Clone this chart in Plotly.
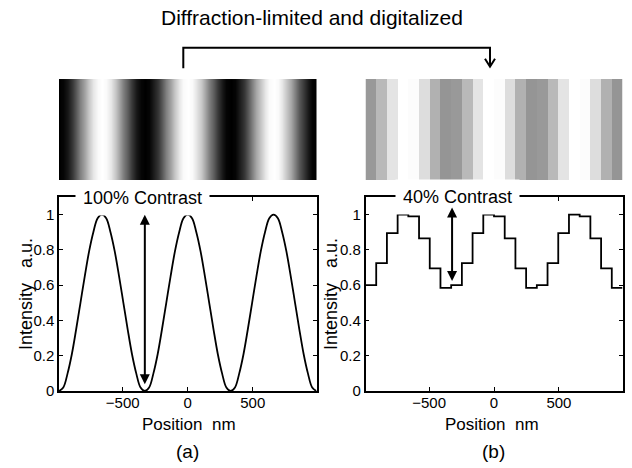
import plotly.graph_objects as go

W, H = 632, 468

# ---- data ----
# (a) diffraction-limited profile, sampled every 33 nm
pos_a = [-990, -957, -924, -891, -858, -825, -792, -759, -726, -693, -660,
         -627, -594, -561, -528, -495, -462, -429, -396, -363, -330,
         -297, -264, -231, -198, -165, -132, -99, -66, -33, 0,
         33, 66, 99, 132, 165, 198, 231, 264, 297, 330,
         363, 396, 429, 462, 495, 528, 561, 594, 627, 660,
         693, 726, 759, 792, 825, 858, 891, 924, 957, 990]
int_a = [0.0, 0.02, 0.10, 0.21, 0.35, 0.50, 0.65, 0.79, 0.90, 0.98, 1.0,
         0.98, 0.90, 0.79, 0.65, 0.50, 0.35, 0.21, 0.10, 0.02, 0.0,
         0.02, 0.10, 0.21, 0.35, 0.50, 0.65, 0.79, 0.90, 0.98, 1.0,
         0.98, 0.90, 0.79, 0.65, 0.50, 0.35, 0.21, 0.10, 0.02, 0.0,
         0.02, 0.10, 0.21, 0.35, 0.50, 0.65, 0.79, 0.90, 0.98, 1.0,
         0.98, 0.90, 0.79, 0.65, 0.50, 0.35, 0.21, 0.10, 0.02, 0.0]

# (b) digitalized profile: pixel edges (nm) and pixel values
edges_b = [-990, -907.5, -825, -742.5, -660, -577.5, -495, -412.5, -330,
           -247.5, -165, -82.5, 0, 82.5, 165, 247.5, 330, 412.5, 495,
           577.5, 660, 742.5, 825, 907.5, 990]
int_b = [0.60, 0.725, 0.895, 1.0, 0.99, 0.865, 0.695, 0.585,
         0.60, 0.725, 0.895, 1.0, 0.99, 0.865, 0.695, 0.585,
         0.60, 0.725, 0.895, 1.0, 0.99, 0.865, 0.695, 0.585]

x_ticks = [-500, 0, 500]
x_ticktext = ["\u2212500", "0", "500"]
y_ticks = [0, 0.2, 0.4, 0.6, 0.8, 1.0]
y_ticktext = ["0", "0.2", "0.4", "0.6", "0.8", "1"]
x_range = [-990, 990]
y_range = [0, 1.1]

FONT = "Liberation Sans, Arial, sans-serif"


def px_x(p):
    return p / W


def px_y(p):
    return 1 - p / H


fig = go.Figure()

gray = [[0, "black"], [1, "white"]]

# gray-level strips
fig.add_trace(go.Heatmap(x=pos_a, y=[0, 1], z=[int_a, int_a], zmin=0, zmax=1,
                         colorscale=gray, showscale=False, zsmooth="best",
                         xaxis="x3", yaxis="y3", hoverinfo="skip"))
fig.add_trace(go.Heatmap(x=edges_b, y=[0, 1], z=[int_b, int_b], zmin=0, zmax=1,
                         colorscale=gray, showscale=False,
                         xaxis="x4", yaxis="y4", hoverinfo="skip"))

# profiles
fig.add_trace(go.Scatter(x=pos_a, y=int_a, mode="lines", line_shape="spline",
                         line=dict(color="black", width=1.8),
                         xaxis="x", yaxis="y", showlegend=False))
fig.add_trace(go.Scatter(x=edges_b, y=int_b + [int_b[-1]], mode="lines",
                         line_shape="hv", line=dict(color="black", width=1.8),
                         xaxis="x2", yaxis="y2", showlegend=False))

dom_x1 = [px_x(59), px_x(316.5)]
dom_x2 = [px_x(365.5), px_x(622.5)]
dom_y = [px_y(391), px_y(197)]
dom_strip = [px_y(180), px_y(79)]

xa = dict(range=x_range, tickvals=x_ticks, ticktext=x_ticktext, ticks="inside",
          ticklen=4, tickwidth=1, tickcolor="black", showline=True,
          linecolor="black", linewidth=1.5, mirror="ticks", showgrid=False,
          zeroline=False, automargin=False, ticklabelstandoff=-3,
          tickfont=dict(family=FONT, size=15, color="black"))
ya = dict(range=y_range, tickvals=y_ticks, ticktext=y_ticktext, ticks="inside",
          ticklen=4, tickwidth=1, tickcolor="black", showline=True,
          linecolor="black", linewidth=1.5, mirror="ticks", showgrid=False,
          zeroline=False, automargin=False,
          tickfont=dict(family=FONT, size=15, color="black"))
hid = dict(visible=False, automargin=False, showgrid=False, zeroline=False)

fig.update_layout(
    template="none",
    width=W, height=H, margin=dict(l=0, r=0, t=0, b=0, pad=0),
    paper_bgcolor="white", plot_bgcolor="white", showlegend=False,
    xaxis=dict(xa, domain=dom_x1, anchor="y"),
    yaxis=dict(ya, domain=dom_y, anchor="x"),
    xaxis2=dict(xa, domain=dom_x2, anchor="y2"),
    yaxis2=dict(ya, domain=dom_y, anchor="x2"),
    xaxis3=dict(hid, domain=dom_x1, range=x_range, anchor="y3"),
    yaxis3=dict(hid, domain=dom_strip, range=[-0.5, 1.5], anchor="x3"),
    xaxis4=dict(hid, domain=dom_x2, range=x_range, anchor="y4"),
    yaxis4=dict(hid, domain=dom_strip, range=[-0.5, 1.5], anchor="x4"),
)

ann = []


def text(x, y, s, size, angle=0, bg=None, pad=1):
    d = dict(x=px_x(x), y=px_y(y), xref="paper", yref="paper", text=s,
             showarrow=False, xanchor="center", yanchor="middle",
             textangle=angle, font=dict(family=FONT, size=size, color="black"),
             borderpad=pad)
    if bg:
        d["bgcolor"] = bg
    ann.append(d)


text(312, 18, "Diffraction-limited and digitalized", 21)
text(142, 198, "100% Contrast", 18, bg="white", pad=7)
text(457, 197, "40% Contrast", 18, bg="white", pad=7)
text(26, 294, "Intensity\u00a0\u00a0\u00a0a.u.", 18, angle=-90)
text(331, 294, "Intensity\u00a0\u00a0\u00a0a.u.", 18, angle=-90)
text(189, 424, "Position\u00a0\u00a0nm", 17)
text(492, 424, "Position\u00a0\u00a0nm", 17)
text(188, 451, "(a)", 19)
text(493, 451, "(b)", 19)

# double-headed contrast arrows
ann.append(dict(x=-330, y=1.0, ax=-330, ay=0.03, xref="x", yref="y",
                axref="x", ayref="y", text="", showarrow=True,
                arrowhead=2, startarrowhead=2, arrowside="end+start",
                arrowsize=1, arrowwidth=2, arrowcolor="black"))
ann.append(dict(x=-323, y=1.04, ax=-323, ay=0.615, xref="x2", yref="y2",
                axref="x2", ayref="y2", text="", showarrow=True,
                arrowhead=2, startarrowhead=2, arrowside="end+start",
                arrowsize=1, arrowwidth=2, arrowcolor="black"))
fig.update_layout(annotations=ann)

# bracket connecting the two strips
lx, rx, ty, ly, ry = 183.3, 490, 47.7, 68.3, 66.7
fig.add_shape(type="path", xref="paper", yref="paper",
              path=(f"M {px_x(lx)},{px_y(ly)} L {px_x(lx)},{px_y(ty)} "
                    f"L {px_x(rx)},{px_y(ty)} L {px_x(rx)},{px_y(ry)}"),
              line=dict(color="black", width=2))
fig.add_shape(type="path", xref="paper", yref="paper",
              path=(f"M {px_x(rx-5)},{px_y(ry-8)} L {px_x(rx)},{px_y(ry)} "
                    f"L {px_x(rx+5)},{px_y(ry-8)}"),
              line=dict(color="black", width=2))

# the page's default 8px body margin would shift the figure; remove it
fig.write_html("out.html",
               config={"displayModeBar": False},
               post_script="document.body.style.margin='0';"
                           "document.body.style.overflow='hidden';")
